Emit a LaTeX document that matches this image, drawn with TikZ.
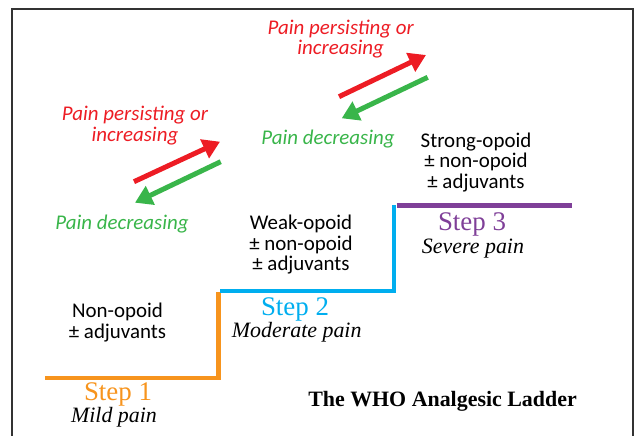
\documentclass[tikz,border=0pt]{standalone}
\usepackage{fontspec}
\setmainfont{Liberation Serif}
\setsansfont{Carlito}
\usetikzlibrary{arrows.meta}
\definecolor{wOrange}{HTML}{F7941D}
\definecolor{wBlue}{HTML}{00AEEF}
\definecolor{wPurple}{HTML}{7F3F98}
\definecolor{wRed}{HTML}{ED1C24}
\definecolor{wGreen}{HTML}{39B54A}
\definecolor{wFrame}{HTML}{333333}
\begin{document}
\begin{tikzpicture}[x=1bp,y=-1bp,
  sanstext/.style={font=\sffamily\fontsize{21}{20.5}\selectfont, inner sep=0pt, align=center, anchor=base},
  painnote/.style={font=\sffamily\itshape\fontsize{21}{20.5}\selectfont, inner sep=0pt, align=center, anchor=base},
  steplabel/.style={font=\rmfamily\fontsize{27}{27}\selectfont, inner sep=0pt, anchor=base},
  severity/.style={font=\rmfamily\itshape\fontsize{22}{22}\selectfont, inner sep=0pt, anchor=base},
  stair/.style={line width=4.5bp, line join=miter, line cap=butt},
  updown/.style={line width=5bp, -{Triangle[length=17bp,width=20bp]}},
  frameline/.style={draw=wFrame, line width=1.5bp}
]
\useasboundingbox (0,0) rectangle (636,436);
\draw[frameline] (12,436) -- (12,9) -- (633,9) -- (633,436);

% stairs
\draw[stair, wOrange] (45,378) -- (218.5,378) -- (218.5,292);
\draw[stair, wBlue] (220,291) -- (394,291) -- (394,205);
\draw[stair, wPurple] (396.5,205.3) -- (572,205.3);

% step 1
\node[sanstext] (t1) at (117.5,338) {Non-opoid\\± adjuvants};
\node[steplabel, text=wOrange] (s1) at (118,400.2) {Step 1};
\node[severity] (p1) at (114,422) {Mild pain};

% step 2
\node[sanstext] (t2) at (301,270.7) {Weak-opoid\\± non-opoid\\± adjuvants};
\node[steplabel, text=wBlue] (s2) at (295,316) {Step 2};
\node[severity] (p2) at (296.7,337.7) {Moderate pain};

% step 3
\node[sanstext] (t3) at (476,188.3) {Strong-opoid\\± non-opoid\\± adjuvants};
\node[steplabel, text=wPurple] (s3) at (472,231) {Step 3};
\node[severity] (p3) at (473,254) {Severe pain};

% transitions 1-2
\node[painnote, text=wRed] (up1) at (135,141.2) {Pain persisting or\\increasing};
\node[painnote, text=wGreen] (dn1) at (122,230) {Pain decreasing};
\coordinate (ua) at (134,181.7);
\coordinate (ub) at (220,141.7);
\coordinate (da) at (220.7,161.7);
\coordinate (db) at (135,202.7);
\draw[updown, wRed] (ua) -- (ub);
\draw[updown, wGreen] (da) -- (db);

% transitions 2-3
\node[painnote, text=wRed] (up2) at (340.7,55) {Pain persisting or\\increasing};
\node[painnote, text=wGreen] (dn2) at (328,145) {Pain decreasing};
\coordinate (uc) at (339,96.7);
\coordinate (ud) at (426,55);
\coordinate (dc) at (427.7,77.3);
\coordinate (dd) at (341.7,118.3);
\draw[updown, wRed] (uc) -- (ud);
\draw[updown, wGreen] (dc) -- (dd);

% title
\node[font=\rmfamily\bfseries\fontsize{22}{22}\selectfont, inner sep=0pt, anchor=base] (title) at (442.5,406) {The WHO Analgesic Ladder};
\end{tikzpicture}
\end{document}
